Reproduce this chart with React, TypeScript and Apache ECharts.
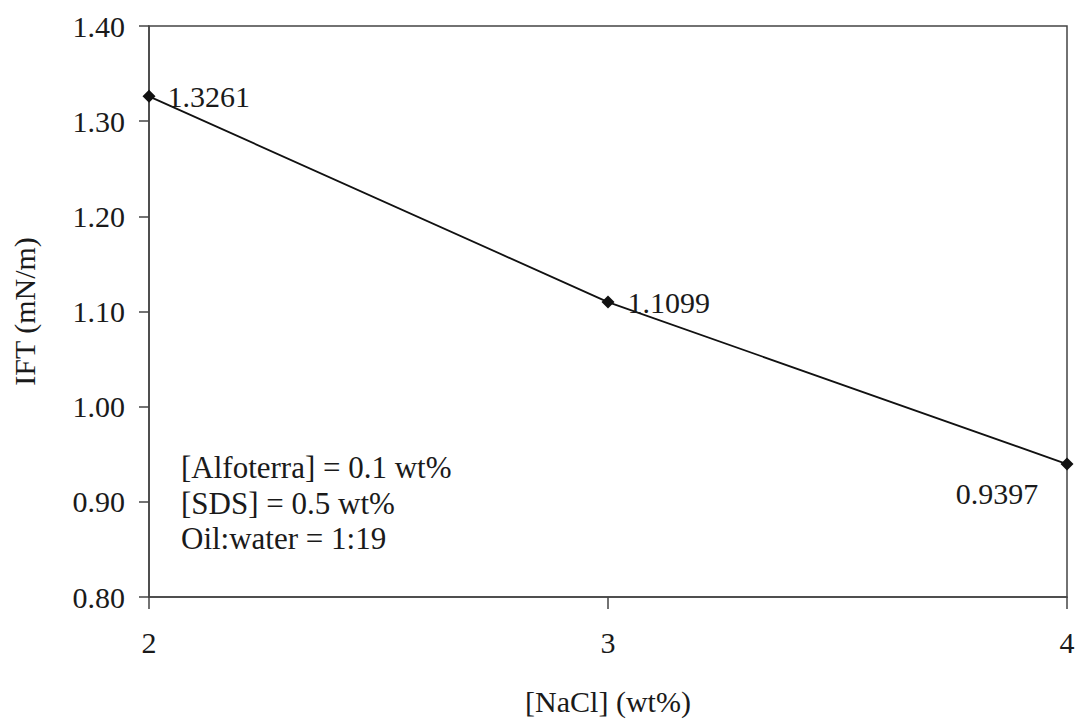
import React, { useEffect, useRef } from "react";
import * as echarts from "echarts";

// NaCl concentration (wt%) and measured interfacial tension (mN/m)
const naclConc = [2, 3, 4];
const iftValues = [1.3261, 1.1099, 0.9397];
const conditionNotes = ["[Alfoterra] = 0.1 wt%", "[SDS] = 0.5 wt%", "Oil:water = 1:19"];

const FONT = "Liberation Serif";
const INK = "#1a1a1a";
const FS = 30;

export default function App() {
  const ref = useRef<HTMLDivElement>(null);

  useEffect(() => {
    if (!ref.current) return;
    const chart = echarts.init(ref.current, null, { renderer: "svg" });

    const labelOffsets: Record<number, any> = {
      0: { position: "right", distance: 12 },
      1: { position: "right", distance: 13 },
      2: { position: "inside", offset: [-70, 29] },
    };

    chart.setOption({
      animation: false,
      backgroundColor: "#ffffff",
      textStyle: { fontFamily: FONT, color: INK },
      grid: {
        left: 149,
        right: 12,
        top: 26,
        bottom: 121,
        show: true,
        borderColor: "#444",
        borderWidth: 1.5,
        backgroundColor: "transparent",
      },
      xAxis: {
        type: "value",
        min: 2,
        max: 4,
        interval: 1,
        name: "[NaCl] (wt%)",
        nameLocation: "middle",
        nameGap: 89,
        nameTextStyle: { fontFamily: FONT, fontSize: FS, color: INK },
        axisLine: { show: true, lineStyle: { color: "#444", width: 1.5 } },
        axisTick: { show: true, inside: false, length: 12, lineStyle: { color: "#444", width: 1.5 } },
        axisLabel: { fontFamily: FONT, fontSize: FS, color: INK, margin: 30 },
        splitLine: { show: false },
      },
      yAxis: {
        type: "value",
        min: 0.8,
        max: 1.4,
        interval: 0.1,
        name: "IFT (mN/m)",
        nameLocation: "middle",
        nameGap: 110,
        nameRotate: 90,
        nameTextStyle: { fontFamily: FONT, fontSize: FS, color: INK },
        axisLine: { show: true, lineStyle: { color: "#444", width: 1.5 } },
        axisTick: { show: true, inside: false, length: 10, lineStyle: { color: "#444", width: 1.5 } },
        axisLabel: {
          fontFamily: FONT,
          fontSize: FS,
          color: INK,
          margin: 24,
          formatter: (v: number) => v.toFixed(2),
        },
        splitLine: { show: false },
      },
      series: [
        {
          type: "line",
          data: naclConc.map((x, i) => ({
            value: [x, iftValues[i]],
            label: {
              show: true,
              formatter: iftValues[i].toFixed(4),
              fontFamily: FONT,
              fontSize: FS,
              color: INK,
              ...labelOffsets[i],
            },
          })),
          symbol: "diamond",
          symbolSize: 13,
          showAllSymbol: true,
          itemStyle: { color: "#111" },
          lineStyle: { color: "#111", width: 1.8 },
          clip: false,
          z: 5,
        },
      ],
      graphic: [
        {
          type: "group",
          left: 181,
          top: 452,
          children: conditionNotes.map((t, i) => ({
            type: "text",
            x: 0,
            y: i * 35.5,
            style: { text: t, fontFamily: FONT, fontSize: 31, fill: INK },
          })),
        },
      ],
    });

    return () => chart.dispose();
  }, []);

  return (
    <div
      ref={ref}
      style={{ position: "fixed", left: 0, top: 0, width: 1079, height: 721, background: "#fff" }}
    />
  );
}
